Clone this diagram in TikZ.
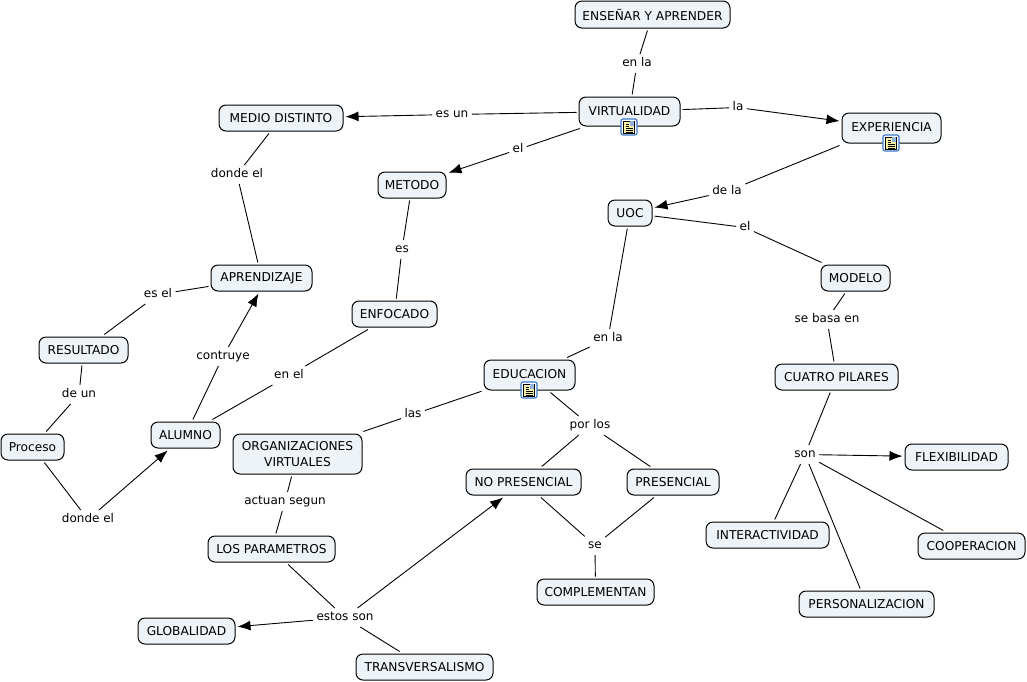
\documentclass[tikz,border=0pt]{standalone}
\usepackage{fontspec}
\setmainfont{DejaVu Sans}
\usetikzlibrary{arrows.meta}
\definecolor{cfill}{HTML}{EDF3F6}
\definecolor{iconblue}{HTML}{3A78C8}
\definecolor{iconyel}{HTML}{F6F0A0}
\tikzset{
  concept/.style={draw=black,line width=1pt,fill=cfill,rounded corners=7pt,inner sep=0pt,outer sep=2.5pt,align=center,font=\fontsize{12.2}{15.5}\selectfont},
  lab/.style={inner sep=1.5pt,outer sep=2pt,text height=9pt,text depth=3pt,yshift=-1.5pt,font=\fontsize{12}{14}\selectfont},
  link/.style={line width=0.9pt,draw=black},
  arr/.style={link,-{Latex[length=13pt,width=10pt]}},
}
\newcommand{\cn}[6]{%
  \pgfmathsetlengthmacro{\cw}{(#4-#2)*1pt}%
  \pgfmathsetlengthmacro{\ch}{(#5-#3)*1pt}%
  \node[concept,minimum width=\cw,minimum height=\ch] (#1) at ({(#2+#4)/2},{(#3+#5)/2}) {#6};%
}
\newcommand{\lb}[4]{\node[lab] (#1) at (#2,#3) {#4};}
\newcommand{\docicon}[2]{%
  \begin{scope}[shift={(#1,#2)}]
    \draw[iconblue,line width=1.1pt,fill=white,rounded corners=2pt] (-8,-8) rectangle (8,8);
    \draw[black,line width=0.7pt,fill=iconyel] (-5.5,-6) rectangle (5.5,6.5);
    \fill[iconblue!55] (0.5,-5.6) rectangle (5.1,-1);
    \foreach \yy/\xe in {-3/-0.5,-1/-0.5,1/3.5,3/3.5,4.8/3.5}{\draw[black,line width=0.6pt] (-3.5,\yy) -- (\xe,\yy);}
  \end{scope}}
\begin{document}
\begin{tikzpicture}[x=1pt,y=-1pt]
\useasboundingbox (0,0) rectangle (1027,681);
\fill[white] (0,0) rectangle (1027,681);
\cn{ens}{575}{1}{730}{28}{ENSEÑAR Y APRENDER}
\cn{vir}{579}{97}{680}{126}{VIRTUALIDAD}
\cn{med}{219}{105}{343}{131}{MEDIO DISTINTO}
\cn{exp}{842}{113}{941}{143}{\raisebox{2pt}{EXPERIENCIA}}
\cn{met}{378}{172}{446}{198}{METODO}
\cn{uoc}{608}{200}{652}{226}{UOC}
\cn{mod}{821}{265}{890}{291}{MODELO}
\cn{apr}{211}{265}{312}{291}{APRENDIZAJE}
\cn{enf}{352}{301}{437}{327}{ENFOCADO}
\cn{cua}{775}{364}{898}{390}{CUATRO PILARES}
\cn{res}{39}{337}{128}{363}{RESULTADO}
\cn{edu}{484}{360}{575}{390}{\raisebox{2pt}{EDUCACION}}
\cn{pro}{1}{434}{64}{460}{Proceso}
\cn{alu}{151}{422}{220}{448}{ALUMNO}
\cn{org}{233}{434}{362}{474}{ORGANIZACIONES\\VIRTUALES}
\cn{fle}{905}{444}{1008}{470}{FLEXIBILIDAD}
\cn{nop}{466}{469}{581}{495}{NO PRESENCIAL}
\cn{pre}{627}{469}{719}{495}{PRESENCIAL}
\cn{int}{706}{522}{829}{548}{INTERACTIVIDAD}
\cn{coo}{918}{533}{1025}{559}{COOPERACION}
\cn{par}{208}{536}{335}{562}{LOS PARAMETROS}
\cn{com}{537}{579}{654}{605}{COMPLEMENTAN}
\cn{per}{799}{591}{934}{617}{PERSONALIZACION}
\cn{glo}{138}{618}{235}{644}{GLOBALIDAD}
\cn{tra}{356}{654}{493}{680}{TRANSVERSALISMO}
\lb{l1}{637}{62}{en la}
\lb{l2}{452}{113}{es un}
\lb{l3}{738}{106}{la}
\lb{l4}{518}{148}{el}
\lb{l5}{727}{190}{de la}
\lb{l6}{745}{226}{el}
\lb{l7}{237}{173}{donde el}
\lb{l8}{402}{248}{es}
\lb{l9}{827}{318}{se basa en}
\lb{l10}{158}{293}{es el}
\lb{l11}{223}{355}{contruye}
\lb{l12}{289}{374}{en el}
\lb{l13}{608}{337}{en la}
\lb{l14}{79}{393}{de un}
\lb{l15}{413}{413}{las}
\lb{l16}{590}{424}{por los}
\lb{l17}{805}{453}{son}
\lb{l18}{88}{518}{donde el}
\lb{l19}{285}{500}{actuan segun}
\lb{l20}{595}{544}{se}
\lb{l21}{345}{616}{estos son}
\draw[link] (ens) -- (l1); \draw[link] (l1) -- (vir);
\draw[link] (vir) -- (l2); \draw[arr] (l2) -- (med);
\draw[link] (vir) -- (l3); \draw[arr] (l3) -- (exp);
\draw[link] (vir) -- (l4); \draw[arr] (l4) -- (met);
\draw[link] (exp.south west) -- (l5); \draw[arr] (l5) -- (uoc);
\draw[link] (uoc) -- (l6); \draw[link] (l6) -- (mod);
\draw[link] (med) -- (l7); \draw[link] (l7) -- (apr);
\draw[link] (met) -- (l8); \draw[link] (l8) -- (enf);
\draw[link] (mod) -- (l9); \draw[link] (l9) -- (cua);
\draw[link] (apr) -- (l10); \draw[link] (l10) -- (res);
\draw[link] (alu) -- (l11); \draw[arr] (l11) -- ([xshift=-3pt]apr.south);
\draw[link] (enf) -- (l12); \draw[link] (l12) -- (alu);
\draw[link] (uoc) -- (l13); \draw[link] (l13) -- (edu);
\draw[link] (res) -- (l14); \draw[link] (l14) -- (pro);
\draw[link] (edu) -- (l15); \draw[link] (l15) -- (org);
\draw[link] (edu) -- (l16); \draw[link] (l16) -- (nop); \draw[link] (l16) -- (pre);
\draw[link] (cua) -- (l17); \draw[arr] (l17) -- (fle); \draw[link] (l17) -- (int); \draw[link] (l17) -- (per); \draw[link] (l17) -- (coo);
\draw[link] (pro) -- (l18); \draw[arr] (l18) -- (alu);
\draw[link] (org) -- (l19); \draw[link] (l19) -- (par);
\draw[link] (nop) -- (l20); \draw[link] (pre) -- (l20); \draw[link] (l20) -- (com);
\draw[link] (par) -- (l21); \draw[arr] (l21) -- (glo); \draw[arr] (l21) -- (nop); \draw[link] (l21) -- (tra);
\docicon{629}{127}
\docicon{891}{143}
\docicon{529}{390}
\end{tikzpicture}
\end{document}
